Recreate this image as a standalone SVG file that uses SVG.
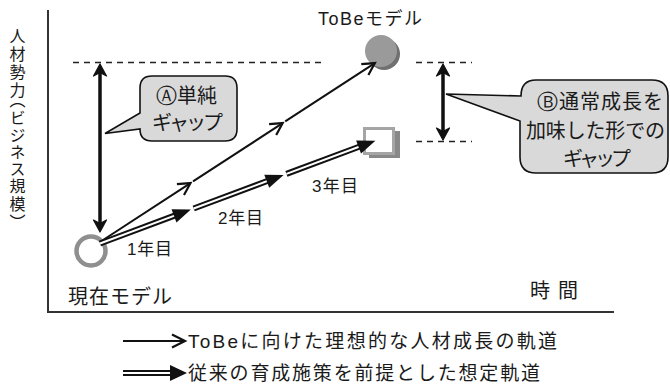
<svg xmlns="http://www.w3.org/2000/svg" width="670" height="386" viewBox="0 0 670 386">
<style>
text{font-family:"Liberation Sans","Noto Sans CJK JP",sans-serif;fill:#1a1a1a}
.circ{font-family:"DejaVu Sans",sans-serif;font-size:21px}
.axis{stroke:#333;stroke-width:2;fill:none}
.dash{stroke:#222;stroke-width:1.3;stroke-dasharray:6 5;fill:none}
.thick{stroke:#111;stroke-width:3.5;fill:none}
.head{fill:#111;stroke:#111;stroke-width:1.2;stroke-linejoin:round}
.single{stroke:#111;stroke-width:2;fill:none}
.chev{stroke:#111;stroke-width:2.2;fill:none;stroke-linejoin:miter}
.dblo{stroke:#111;stroke-width:6;fill:none}
.dbli{stroke:#fff;stroke-width:2;fill:none}
.tri{fill:#111}
.callout{fill:#d9d9d9;stroke:#111;stroke-width:1.6}
</style>
<defs>
<path id="nh" d="M0,0 L6.5,12 L0,8.5 L-6.5,12 Z"/>
</defs>

<g id="axes">
<line class="axis" x1="48" y1="10" x2="48" y2="312"/>
<line class="axis" x1="47" y1="312" x2="614" y2="312"/>
<text x="16" y="28" font-size="16" style="writing-mode:vertical-rl;font-feature-settings:'vpal' 1" textLength="194" lengthAdjust="spacing">人材勢力（ビジネス規模）</text>
<text x="530" y="298" font-size="20" textLength="48" lengthAdjust="spacing">時間</text>
</g>

<g id="guides">
<line class="dash" x1="73" y1="62.5" x2="322" y2="62.5"/>
<line class="dash" x1="416" y1="62.5" x2="472" y2="62.5"/>
<line class="dash" x1="416" y1="141.5" x2="472" y2="141.5"/>
</g>

<g id="current-model">
<circle cx="91" cy="251" r="14.5" fill="#fff" stroke="#8f8f8f" stroke-width="4.5"/>
<text x="68" y="304" font-size="20" textLength="104" lengthAdjust="spacing">現在モデル</text>
</g>

<g id="tobe-model">
<circle cx="384" cy="54" r="16" fill="#707070"/>
<circle cx="381" cy="51" r="16" fill="#9a9a9a"/>
<text x="318" y="25" font-size="18" textLength="104" lengthAdjust="spacing">ToBeモデル</text>
</g>

<g id="assumed-model">
<rect x="369" y="131" width="31" height="27" fill="#888"/>
<rect x="364.5" y="128.5" width="29" height="25" fill="#fff" stroke="#a5a5a5" stroke-width="3"/>
</g>

<g id="connectors">
<g transform="translate(100,242) rotate(-33.06)">
<line class="single" x1="0" y1="0" x2="107" y2="0"/>
<path class="chev" d="M96,-6.5 L108,0 L96,6.5"/>
<line class="single" x1="111" y1="0" x2="217" y2="0"/>
<path class="chev" d="M206,-6.5 L218,0 L206,6.5"/>
<line class="single" x1="221" y1="0" x2="327" y2="0"/>
<path class="chev" d="M316,-6.5 L328,0 L316,6.5"/>
</g>
<g transform="translate(100,243.5) rotate(-20.47)">
<line class="dblo" x1="0" y1="0" x2="81" y2="0"/>
<line class="dbli" x1="0" y1="0" x2="81" y2="0"/>
<polygon class="tri" points="79,-7 97,0 79,7"/>
<line class="dblo" x1="100" y1="0" x2="180" y2="0"/>
<line class="dbli" x1="100" y1="0" x2="180" y2="0"/>
<polygon class="tri" points="178,-7 196,0 178,7"/>
<line class="dblo" x1="199" y1="0" x2="278" y2="0"/>
<line class="dbli" x1="199" y1="0" x2="278" y2="0"/>
<polygon class="tri" points="276,-7 294,0 276,7"/>
</g>
<line class="thick" x1="100" y1="72" x2="100" y2="224"/>
<use href="#nh" class="head" transform="translate(100,64)"/>
<use href="#nh" class="head" transform="translate(100,232) rotate(180)"/>
<line class="thick" x1="443" y1="72" x2="443" y2="132"/>
<use href="#nh" class="head" transform="translate(443,64)"/>
<use href="#nh" class="head" transform="translate(443,140) rotate(180)"/>
</g>

<g id="year-labels">
<text x="127" y="255" font-size="17" textLength="45" lengthAdjust="spacing">1年目</text>
<text x="218" y="224" font-size="17" textLength="45" lengthAdjust="spacing">2年目</text>
<text x="312" y="192" font-size="17" textLength="46" lengthAdjust="spacing">3年目</text>
</g>

<g id="callout-a">
<path class="callout" d="M152,76 H225 Q237,76 237,88 V129 Q237,141 225,141 H152 Q140,141 140,129 L105,133.5 L140,113 V88 Q140,76 152,76 Z"/>
<text x="156" y="103" font-size="20"><tspan class="circ">Ⓐ</tspan>単純</text>
<text x="152" y="130" font-size="20" textLength="71" lengthAdjust="spacing">ギャップ</text>
</g>

<g id="callout-b">
<path class="callout" d="M536,80 H652 Q668,80 668,96 V157 Q668,173 652,173 H536 Q520,173 520,157 V121 L446,94 L521,96 Q521,80 536,80 Z"/>
<text x="537" y="109" font-size="20" letter-spacing="1"><tspan class="circ">Ⓑ</tspan>通常成長を</text>
<text x="526" y="138" font-size="20" textLength="139" lengthAdjust="spacing">加味した形での</text>
<text x="563" y="166" font-size="20" textLength="68" lengthAdjust="spacing">ギャップ</text>
</g>

<g id="legend">
<line class="single" x1="123" y1="341" x2="184" y2="341"/>
<path class="chev" d="M172,334.5 L185,341 L172,347.5"/>
<line class="dblo" x1="123" y1="373" x2="172" y2="373"/>
<line class="dbli" x1="123" y1="373" x2="172" y2="373"/>
<polygon class="tri" points="170,365 187,373 170,381"/>
<text x="188" y="348" font-size="19" textLength="369" lengthAdjust="spacing">ToBeに向けた理想的な人材成長の軌道</text>
<text x="188" y="380" font-size="19" textLength="352" lengthAdjust="spacing">従来の育成施策を前提とした想定軌道</text>
</g>
</svg>
